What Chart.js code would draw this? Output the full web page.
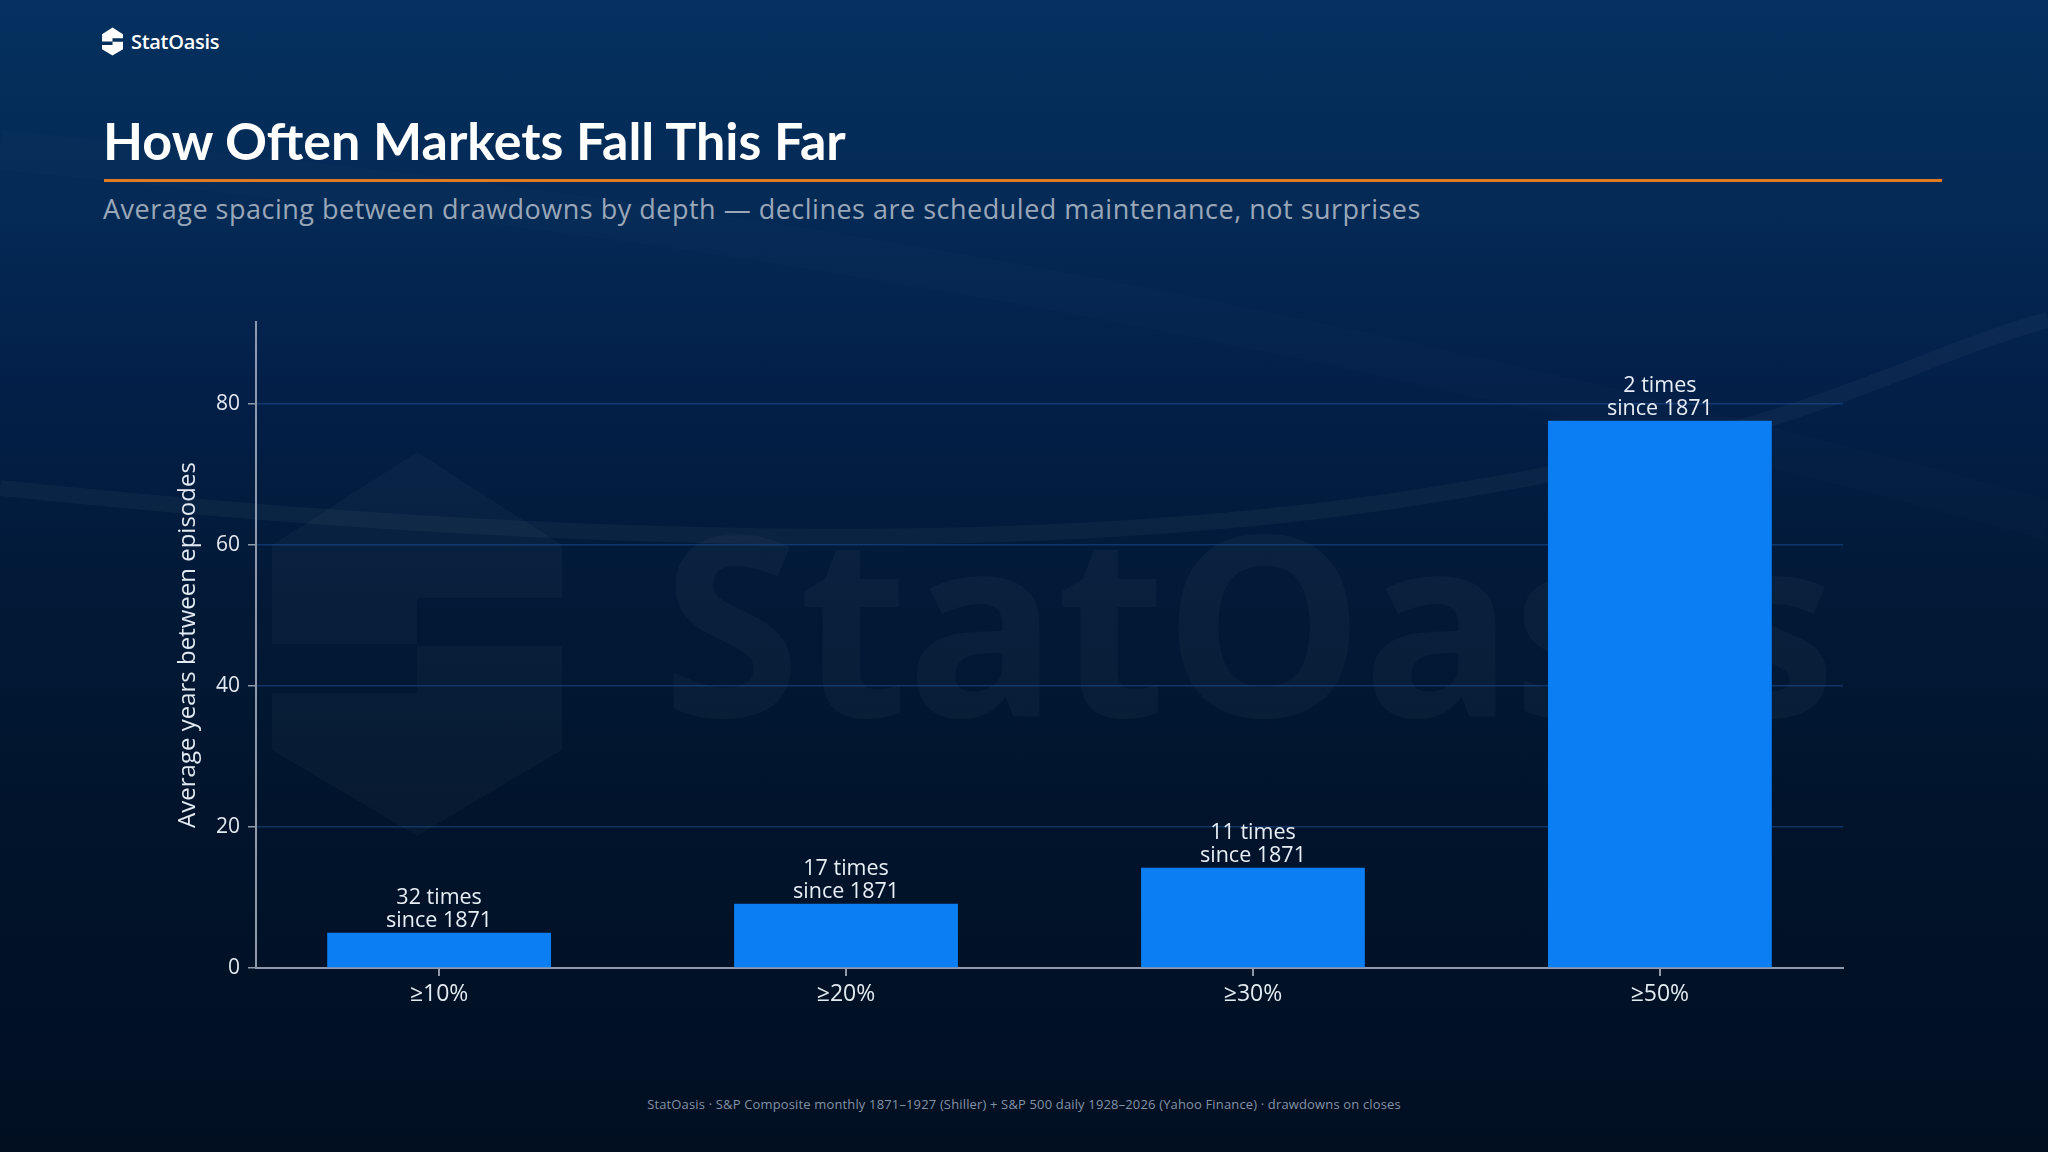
<!DOCTYPE html>
<html>
<head>
<meta charset="utf-8">
<script src="https://cdn.jsdelivr.net/npm/chart.js@4.4.1/dist/chart.umd.min.js"></script>
<style>
  html, body { margin: 0; padding: 0; }
  body { width: 2048px; height: 1152px; overflow: hidden; font-family: "Open Sans", "Noto Sans", sans-serif; }
  #page {
    position: relative; width: 2048px; height: 1152px; overflow: hidden;
    background: linear-gradient(180deg, #05305f 0%, #042a55 18%, #03204a 32%, #021a38 50%, #01142c 70%, #010f21 100%);
  }
  #deco { position: absolute; left: 0; top: 0; }
  #brand { position: absolute; left: 102px; top: 26px; height: 30px; display: flex; align-items: center; }
  #brand span { color: #ffffff; font-size: 20px; font-weight: 600; margin-left: 8px; letter-spacing: -0.3px; }
  #title { position: absolute; left: 103px; top: 110px; color: #ffffff; font-family: Lato, sans-serif; font-size: 52px; font-weight: 700; line-height: 60px; }
  #rule { position: absolute; left: 104px; top: 179px; width: 1838px; height: 3px; background: #e07b22; }
  #subtitle { position: absolute; left: 103px; top: 192px; color: #9aa7b8; font-size: 27px; line-height: 34px; letter-spacing: 0.5px; }
  #watermark { position: absolute; left: 662px; top: 470px; font-size: 252px; font-weight: 700; color: rgba(255,255,255,0.03); line-height: 300px; letter-spacing: -2px; }
  #footer { position: absolute; left: 0; width: 2048px; top: 1095px; text-align: center; color: #8392a6; font-size: 13px; letter-spacing: 0.15px; }
  #chartbox { position: absolute; left: 160px; top: 300px; width: 1700px; height: 740px; }
</style>
</head>
<body>
<div id="page">
  <svg id="deco" width="2048" height="1152">
    <path d="M0 488 C 500 540, 1000 560, 1400 500 S 1900 360, 2048 320" stroke="rgba(255,255,255,0.035)" stroke-width="16" fill="none"/>
    <path d="M0 150 C 500 200, 1100 260, 2048 520" stroke="rgba(255,255,255,0.012)" stroke-width="40" fill="none"/>
    <g fill="rgba(255,255,255,0.028)" transform="translate(272,452)">
      <polygon points="0,93 145,0 290,93 290,146 145,146 145,192 0,192"/>
      <polygon points="0,241 145,241 145,194 290,194 290,298 145,384 0,298"/>
    </g>
  </svg>
  <div id="watermark">StatOasis</div>
  <div id="brand">
    <svg width="21" height="29" viewBox="0 0 290 384">
      <g fill="#ffffff">
        <polygon points="0,93 145,0 290,93 290,146 145,146 145,192 0,192"/>
        <polygon points="0,241 145,241 145,194 290,194 290,298 145,384 0,298"/>
      </g>
    </svg>
    <span>StatOasis</span>
  </div>
  <div id="title">How Often Markets Fall This Far</div>
  <div id="rule"></div>
  <div id="subtitle">Average spacing between drawdowns by depth — declines are scheduled maintenance, not surprises</div>
  <div id="chartbox"><canvas id="my-canvas"></canvas></div>
  <div id="footer">StatOasis · S&amp;P Composite monthly 1871–1927 (Shiller) + S&amp;P 500 daily 1928–2026 (Yahoo Finance) · drawdowns on closes</div>
</div>
<script>
let categories = ['≥10%', '≥20%', '≥30%', '≥50%'];
let years_between = [5.0, 9.1, 14.2, 77.6];
let episode_counts = [32, 17, 11, 2];
let y_ticks = [0, 20, 40, 60, 80];

let bar_points = [];
for (let i = 0; i < categories.length; i++) {
    bar_points.push({ x: i, y: years_between[i] });
}

const font_family = '"Open Sans", "Noto Sans", sans-serif';

// labels over each bar, two lines
const bar_labels = {
    id: 'bar_labels',
    afterDatasetsDraw(chart) {
        let ctx = chart.ctx;
        let meta = chart.getDatasetMeta(0);
        ctx.save();
        ctx.fillStyle = '#e8eef6';
        ctx.font = '21.5px ' + font_family;
        ctx.textAlign = 'center';
        ctx.textBaseline = 'middle';
        meta.data.forEach((bar, i) => {
            ctx.fillText(episode_counts[i] + ' times', bar.x, bar.y - 35);
            ctx.fillText('since 1871', bar.x, bar.y - 12);
        });
        ctx.restore();
    }
};

let canvas = document.getElementById('my-canvas');
let chart = new Chart(canvas, {
    type: 'bar',
    data: {
        datasets: [{
            data: bar_points,
            backgroundColor: '#0a7ef2',
            borderWidth: 0,
            barPercentage: 0.55,
            categoryPercentage: 1.0
        }]
    },
    options: {
        responsive: true,
        maintainAspectRatio: false,
        animation: false,
        layout: { padding: { top: 22, right: 17, left: 0, bottom: 0 } },
        plugins: {
            legend: { display: false },
            tooltip: { enabled: false }
        },
        scales: {
            x: {
                type: 'linear',
                min: -0.45,
                max: 3.45,
                offset: false,
                afterFit(scale) { scale.height = 72; },
                afterBuildTicks(scale) { scale.ticks = categories.map((c, i) => ({ value: i })); },
                border: { display: true, color: '#8e9aab', width: 2 },
                grid: { offset: false, drawOnChartArea: false, drawTicks: true, tickLength: 8, tickColor: '#8e9aab', lineWidth: 2 },
                ticks: {
                    autoSkip: false,
                    maxRotation: 0,
                    padding: 5,
                    color: '#e3e9f1',
                    font: { family: font_family, size: 23 },
                    callback: (v) => categories[v]
                }
            },
            y: {
                min: 0,
                max: 91.6,
                afterFit(scale) { scale.width = 96; },
                afterBuildTicks(scale) { scale.ticks = y_ticks.map(v => ({ value: v })); },
                border: { display: true, color: '#8e9aab', width: 2 },
                grid: {
                    color: (c) => c.tick && c.tick.value === 0 ? 'rgba(0,0,0,0)' : 'rgba(30,90,170,0.45)',
                    lineWidth: 1.5,
                    tickLength: 8,
                    tickColor: '#8e9aab'
                },
                ticks: {
                    padding: 8,
                    color: '#e3e9f1',
                    font: { family: font_family, size: 21 }
                },
                title: {
                    display: true,
                    text: 'Average years between episodes',
                    color: '#e3e9f1',
                    padding: { top: 14, bottom: 0 },
                    font: { family: font_family, size: 24 }
                }
            }
        }
    },
    plugins: [bar_labels]
});
</script>
</body>
</html>
